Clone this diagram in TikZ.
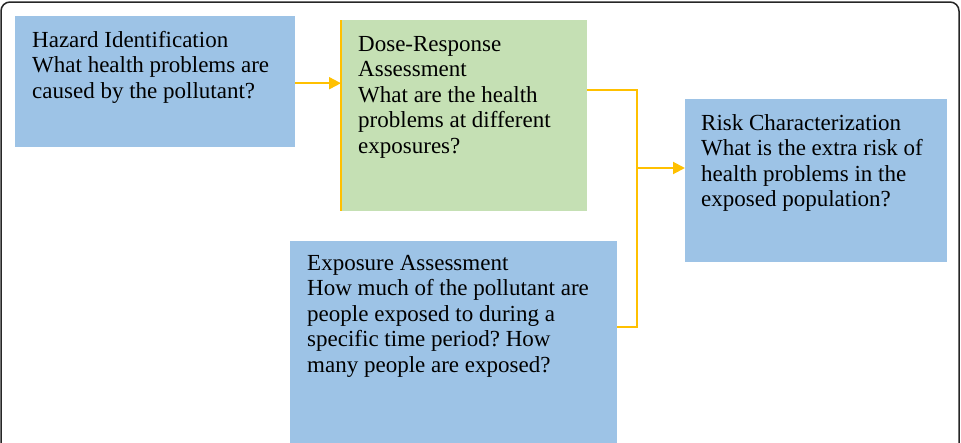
\documentclass[tikz,border=0pt]{standalone}
\usepackage{fontspec}
\setmainfont{Liberation Serif}
\usepackage{xcolor}
\usepackage{tikz}
\usetikzlibrary{positioning,arrows.meta,calc}

\definecolor{stepblue}{HTML}{9DC3E6}
\definecolor{stepgreen}{HTML}{C5E0B4}
\definecolor{linkyellow}{HTML}{FFC000}
\frenchspacing

\begin{document}
\begin{tikzpicture}[
    x=1pt, y=-1pt,
    font=\fontsize{23}{25.5}\selectfont,
    box/.style={rectangle, draw=none, inner sep=0pt, anchor=north west},
    txt/.style={inner sep=0pt, anchor=north west, align=left, text=black},
    link/.style={line width=2pt, draw=linkyellow},
    arr/.style={link, -{Triangle[length=12pt, width=12pt]}},
    frame/.style={draw=black!85, line width=1.5pt, rounded corners=9pt}
]
\useasboundingbox (0,0) rectangle (961,442);

% outer frame
\draw[frame] (1,450) |- (959,2) -- (959,450);

\node[box, fill=stepblue, minimum width=280pt, minimum height=131pt] (hazard) at (15,16) {};
\node[txt] (hazardtxt) at (32,31) {Hazard Identification\\What health problems are\\caused by the pollutant?};

\node[box, fill=stepgreen, minimum width=246pt, minimum height=191pt] (dose) at (341,20) {};
\draw[draw=linkyellow, line width=1.5pt] (dose.north west) -- (dose.south west);
\node[txt] (dosetxt) at (358,36) {Dose-Response\\Assessment\\What are the health\\problems at different\\exposures?};

\node[box, fill=stepblue, minimum width=262pt, minimum height=163pt] (risk) at (685,99) {};
\node[txt] (risktxt) at (701,114) {Risk Characterization\\What is the extra risk of\\health problems in the\\exposed population?};

\node[box, fill=stepblue, minimum width=327pt, minimum height=204pt] (expo) at (290,241) {};
\node[txt] (expotxt) at (307,255) {Exposure Assessment\\How much of the pollutant are\\people exposed to during a\\specific time period? How\\many people are exposed?};

\coordinate (jct) at (637,168);

\draw[arr] ([yshift=-1.5pt]hazard.east) -- ([yshift=-1.5pt]hazard.east -| dose.west);
\draw[link] ([yshift=25.5pt]dose.east) -| (jct) |- ([yshift=16pt]expo.east);
\draw[arr] (jct) -- (jct -| risk.west);

\end{tikzpicture}
\end{document}
